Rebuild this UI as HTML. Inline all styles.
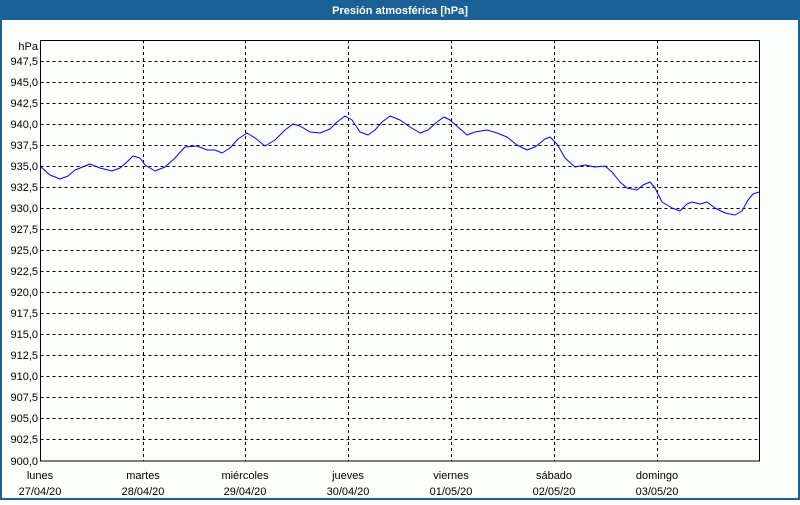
<!DOCTYPE html>
<html><head><meta charset="utf-8"><style>
html,body{margin:0;padding:0;background:#fff}
body{width:800px;height:500px;overflow:hidden}
svg text{font-family:"Liberation Sans",sans-serif;font-size:11px;fill:#000}
</style></head><body>
<svg width="800" height="500" viewBox="0 0 800 500">
<rect x="0" y="0" width="800" height="500" fill="#1b6096"/>
<rect x="2" y="20" width="796" height="478" fill="#fcfefc"/>
<text x="400" y="14" text-anchor="middle" style="font-weight:bold;fill:#fff;font-size:11px">Presión atmosférica [hPa]</text>
<g stroke="#000" stroke-width="1" stroke-dasharray="3,3" fill="none" shape-rendering="crispEdges">
<path d="M40.5 61.5H760M40.5 82.5H760M40.5 103.5H760M40.5 124.5H760M40.5 145.5H760M40.5 166.5H760M40.5 187.5H760M40.5 208.5H760M40.5 229.5H760M40.5 250.5H760M40.5 271.5H760M40.5 292.5H760M40.5 313.5H760M40.5 334.5H760M40.5 355.5H760M40.5 376.5H760M40.5 397.5H760M40.5 418.5H760M40.5 439.5H760"/>
<path d="M143.5 40V461M245.5 40V461M348.5 40V461M451.5 40V461M554.5 40V461M657.5 40V461"/>
</g>
<rect x="40.5" y="40.5" width="719" height="420.5" fill="none" stroke="#000" stroke-width="1.2" shape-rendering="crispEdges"/>
<g text-anchor="end">
<text x="38" y="50">hPa</text>
<text x="38" y="65">947,5</text><text x="38" y="86">945,0</text><text x="38" y="107">942,5</text><text x="38" y="128">940,0</text>
<text x="38" y="149">937,5</text><text x="38" y="170">935,0</text><text x="38" y="191">932,5</text><text x="38" y="212">930,0</text>
<text x="38" y="233">927,5</text><text x="38" y="254">925,0</text><text x="38" y="275">922,5</text><text x="38" y="296">920,0</text>
<text x="38" y="317">917,5</text><text x="38" y="338">915,0</text><text x="38" y="359">912,5</text><text x="38" y="380">910,0</text>
<text x="38" y="401">907,5</text><text x="38" y="422">905,0</text><text x="38" y="443">902,5</text><text x="38" y="465">900,0</text>
</g>
<g text-anchor="middle">
<text x="40" y="479">lunes</text><text x="40" y="495">27/04/20</text>
<text x="143" y="479">martes</text><text x="143" y="495">28/04/20</text>
<text x="245" y="479">miércoles</text><text x="245" y="495">29/04/20</text>
<text x="348" y="479">jueves</text><text x="348" y="495">30/04/20</text>
<text x="451" y="479">viernes</text><text x="451" y="495">01/05/20</text>
<text x="554" y="479">sábado</text><text x="554" y="495">02/05/20</text>
<text x="657" y="479">domingo</text><text x="657" y="495">03/05/20</text>
</g>
<polyline fill="none" stroke="#0000ff" stroke-width="1" stroke-linejoin="round" points="41,167 50,175 60,179 68,176 75,170 90,164 100,168 112,171 120,168 127,162 133,156 140,158 145,165 155,171 165,167 175,158 185,147 197,146 207,150 215,150 222,153 230,148 238,139 247,133 255,138 265,146 275,140 285,130 293,124 300,126 310,132 320,133 330,129 337,122 345,116 352,120 360,132 368,135 375,130 382,122 390,116 400,120 410,127 420,133 428,130 437,122 444,117 450,120 458,127 467,135 475,132 487,130 497,133 507,137 517,145 527,150 535,147 545,139 550,137 557,144 565,158 575,167 585,165 595,167 605,166 612,172 620,182 627,188 637,190 643,185 650,182 655,188 662,202 672,208 680,211 687,204 692,202 700,204 707,202 715,208 725,213 735,215 742,211 748,200 753,194 759,192"/>
</svg>
</body></html>
